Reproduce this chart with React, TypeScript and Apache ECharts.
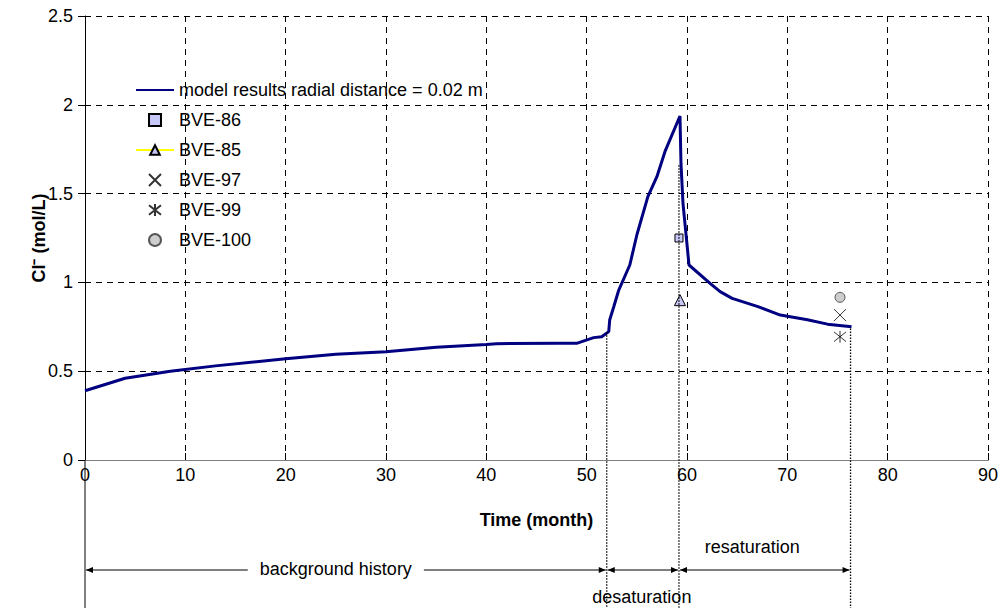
import React, { useEffect, useRef } from "react";
import * as echarts from "echarts";

const FONT = "Arial, 'Liberation Sans', sans-serif";

// model results (month, mol/L)
const modelX = [0, 4, 8.5, 13, 20, 25, 30, 35, 40, 41, 47.3, 49, 50.7, 51.5, 52.2, 52.3, 52.7, 53.2, 54.3, 55.0, 56.1, 57.0, 57.8, 59.3, 59.4, 59.6, 60.2, 62.3, 63.3, 64.5, 67, 69.3, 72, 74, 76.4];
const modelY = [0.39, 0.46, 0.5, 0.53, 0.57, 0.595, 0.61, 0.635, 0.65, 0.655, 0.657, 0.657, 0.689, 0.694, 0.723, 0.79, 0.863, 0.957, 1.098, 1.267, 1.483, 1.595, 1.736, 1.937, 1.67, 1.445, 1.098, 0.995, 0.948, 0.91, 0.865, 0.816, 0.79, 0.765, 0.75];

const bve86 = [[59.2, 1.25]];
const bve85 = [[59.3, 0.9]];
const bve97 = [[75.25, 0.816]];
const bve99 = [[75.25, 0.694]];
const bve100 = [[75.25, 0.916]];

const phaseBounds = [
  { x: 52, top: 0.72 },
  { x: 59.2, top: 1.66 },
  { x: 76.3, top: 0.74 },
];
const phases = [
  { name: "background history", from: 0, to: 52, labelX: 25, row: 0 },
  { name: "desaturation", from: 52, to: 59.2, labelX: 55.5, row: 1 },
  { name: "resaturation", from: 59.2, to: 76.3, labelX: 66.5, row: -1 },
];

const SQUARE_PATH = "path://M0,0L10,0L10,10L0,10Z";
const X_PATH = "path://M0,0L10,10M0,10L10,0";
const STAR_PATH = "path://M0,1L10,9M0,9L10,1M5,0L5,10";
const MODEL = "model results radial distance = 0.02 m";

export default function App() {
  const ref = useRef<HTMLDivElement>(null);
  useEffect(() => {
    document.body.style.margin = "0";
    const chart = echarts.init(ref.current!, null, { renderer: "svg" });
    const textStyle = { fontFamily: FONT, color: "#000", fontSize: 18 };
    const option: any = {
      animation: false,
      backgroundColor: "#fff",
      textStyle: { fontFamily: FONT },
      grid: { left: 85, right: 17, top: 16, bottom: 148 },
      legend: {
        orient: "vertical",
        left: 135,
        top: 81,
        padding: 0,
        itemWidth: 38,
        itemHeight: 12,
        itemGap: 12,
        textStyle: { ...textStyle, lineHeight: 18 },
        data: [
          { name: MODEL, itemStyle: { color: "rgba(0,0,0,0)", borderWidth: 0 } },
          "BVE-86",
          "BVE-85",
          "BVE-97",
          "BVE-99",
          "BVE-100",
        ],
      },
      xAxis: [
        {
          type: "value",
          min: 0,
          max: 90,
          interval: 10,
          name: "Time (month)",
          nameLocation: "middle",
          nameGap: 51,
          nameMoveOverlap: false,
          nameTextStyle: { ...textStyle, fontWeight: "bold" },
          axisLine: { show: true, onZero: false, lineStyle: { color: "#000", width: 1 } },
          axisTick: { show: true, inside: true, length: 7, lineStyle: { color: "#000" } },
          axisLabel: { ...textStyle, margin: 6 },
          splitLine: { show: true, lineStyle: { color: "#000", type: [6, 5], width: 1 } },
        },
        {
          type: "value",
          position: "top",
          min: 0,
          max: 90,
          axisLine: { show: true, lineStyle: { color: "#808080", width: 1 } },
          axisTick: { show: false },
          axisLabel: { show: false },
          splitLine: { show: false },
        },
      ],
      yAxis: {
        type: "value",
        min: 0,
        max: 2.5,
        interval: 0.5,
        name: "Cl\u207B (mol/L)",
        nameLocation: "middle",
        nameGap: 37,
        nameMoveOverlap: false,
        nameTextStyle: { ...textStyle, fontWeight: "bold" },
        axisLine: { show: true, onZero: false, lineStyle: { color: "#000", width: 1 } },
        axisTick: { show: true, inside: false, length: 7, lineStyle: { color: "#000" } },
        axisLabel: { ...textStyle, margin: 12 },
        splitLine: { show: true, lineStyle: { color: "#000", type: [6, 5], width: 1 } },
      },
      series: [
        {
          name: MODEL,
          type: "line",
          data: modelX.map((x, i) => [x, modelY[i]]),
          symbol: "none",
          lineStyle: { color: "#000080", width: 3 },
          itemStyle: { color: "#000080" },
          z: 3,
        },
        {
          name: "BVE-86",
          type: "scatter",
          data: bve86,
          symbol: SQUARE_PATH,
          symbolSize: 8,
          itemStyle: { color: "#c8c8f8", borderColor: "#000", borderWidth: 1, opacity: 1 },
          z: 4,
        },
        {
          name: "BVE-85",
          type: "line",
          data: bve85,
          symbol: "triangle",
          symbolSize: 11,
          showSymbol: true,
          lineStyle: { color: "#ffff00", width: 1 },
          itemStyle: { color: "#c8c8f8", borderColor: "#000", borderWidth: 1 },
          z: 4,
        },
        {
          name: "BVE-97",
          type: "scatter",
          data: bve97,
          symbol: X_PATH,
          symbolSize: 12,
          itemStyle: { color: "rgba(0,0,0,0)", borderColor: "#000", borderWidth: 1 },
          z: 4,
        },
        {
          name: "BVE-99",
          type: "scatter",
          data: bve99,
          symbol: STAR_PATH,
          symbolSize: 12,
          itemStyle: { color: "rgba(0,0,0,0)", borderColor: "#000", borderWidth: 1 },
          z: 4,
        },
        {
          name: "BVE-100",
          type: "scatter",
          data: bve100,
          symbol: "circle",
          symbolSize: 10,
          itemStyle: { color: "#c0c0c0", borderColor: "#333", borderWidth: 1 },
          z: 4,
        },
      ],
    };
    chart.setOption(option);

    const px = (x: number, y: number) => chart.convertToPixel({ gridIndex: 0 }, [x, y]) as number[];
    const H = 608;
    const base = px(0, 0);
    const arrowY = base[1] + 110;
    const graphics: any[] = [];
    graphics.push({
      type: "line",
      shape: { x1: base[0], y1: base[1], x2: base[0], y2: H },
      style: { stroke: "#000", lineWidth: 1 },
      z: 10,
    });
    phaseBounds.forEach((b) => {
      const p = px(b.x, b.top);
      graphics.push({
        type: "line",
        shape: { x1: p[0], y1: p[1], x2: p[0], y2: H },
        style: { stroke: "#000", lineWidth: 1.3, lineDash: [1.5, 1.5] },
        z: 10,
      });
    });
    phases.forEach((ph) => {
      const a = px(ph.from, 0)[0] + 1;
      const b = px(ph.to, 0)[0] - 1;
      graphics.push({
        type: "line",
        shape: { x1: a, y1: arrowY, x2: b, y2: arrowY },
        style: { stroke: "#000", lineWidth: 1 },
        z: 10,
      });
      graphics.push({
        type: "polygon",
        shape: { points: [[a, arrowY], [a + 7, arrowY - 3], [a + 7, arrowY + 3]] },
        style: { fill: "#000" },
        z: 10,
      });
      graphics.push({
        type: "polygon",
        shape: { points: [[b, arrowY], [b - 7, arrowY - 3], [b - 7, arrowY + 3]] },
        style: { fill: "#000" },
        z: 10,
      });
      const lx = px(ph.labelX, 0)[0];
      const ly = ph.row === 0 ? arrowY - 1 : ph.row === 1 ? arrowY + 27 : arrowY - 23;
      graphics.push({
        type: "text",
        x: lx,
        y: ly,
        z: 11,
        style: {
          text: ph.name,
          fontFamily: FONT,
          fontSize: 18,
          fill: "#000",
          align: "center",
          verticalAlign: "middle",
          backgroundColor: ph.row === 0 ? "#fff" : "transparent",
          padding: ph.row === 0 ? [0, 12] : 0,
        },
      });
    });
    chart.setOption({ graphic: graphics });
    return () => chart.dispose();
  }, []);
  return <div ref={ref} style={{ width: 1005, height: 608 }} />;
}
